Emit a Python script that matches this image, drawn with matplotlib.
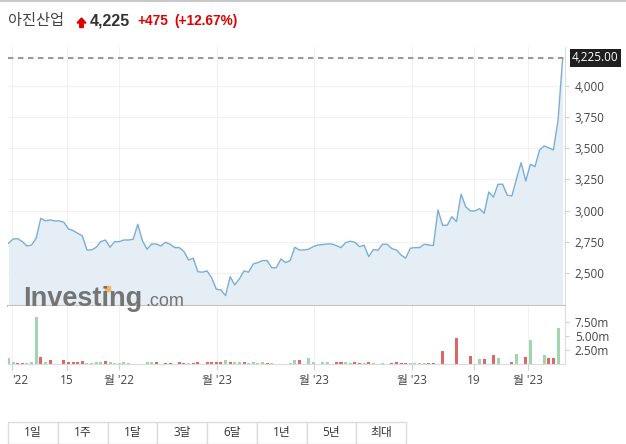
import matplotlib
matplotlib.use("Agg")
import matplotlib.pyplot as plt
import matplotlib.patches as mpatches
import matplotlib.transforms as mtransforms
import numpy as np

plt.rcParams['font.family'] = ['Open Sans', 'Noto Sans CJK KR', 'DejaVu Sans']

# --- data ---
price = [2738, 2772, 2775, 2751, 2716, 2724, 2778, 2938, 2917, 2925,
         2917, 2917, 2906, 2853, 2839, 2818, 2797, 2684, 2684, 2706,
         2751, 2764, 2706, 2751, 2751, 2764, 2764, 2770, 2890, 2759,
         2690, 2732, 2732, 2716, 2746, 2730, 2703, 2703, 2671, 2604,
         2618, 2510, 2506, 2516, 2462, 2369, 2364, 2318, 2470, 2404,
         2452, 2516, 2506, 2572, 2583, 2599, 2599, 2542, 2542, 2612,
         2583, 2599, 2706, 2684, 2684, 2690, 2711, 2724, 2727, 2732,
         2732, 2719, 2703, 2743, 2754, 2746, 2711, 2722, 2631, 2687,
         2682, 2730, 2730, 2695, 2684, 2644, 2618, 2698, 2703, 2703,
         2730, 2724, 2719, 3005, 2882, 2882, 2951, 2911, 3131, 3031,
         2997, 2997, 3015, 2978, 3149, 3107, 3211, 3211, 3123, 3117,
         3256, 3384, 3237, 3371, 3352, 3486, 3518, 3502, 3486, 3726,
         4225]

# volume in millions, 'g' = up bar, 'r' = down bar
volume = [1.07, 0.36, 0.18, 0.18, 0.18, 0.36, 8.5, 1.36, 0.46, 0.77,
          0, 0, 0.77, 0.36, 0.36, 0.36, 0.59, 0.18, 0.18, 0.36,
          0.36, 0.59, 0.36, 0.18, 0.18, 0.36, 0.18, 0, 0, 0,
          0.36, 0.36, 0.36, 0, 0.18, 0.18, 0, 0.36, 0.18, 0.18,
          0.18, 0.36, 0, 0.36, 0.36, 0.36, 0.36, 0.71, 0.36, 0.36,
          0.36, 0.36, 0.18, 0.36, 0.18, 0.36, 0.18, 0.18, 0, 0,
          0, 0.18, 0.71, 0.71, 0, 1.07, 0.36, 0, 0.36, 0.36,
          0, 0.36, 0.36, 0.36, 0.18, 0.36, 0.18, 0.18, 0.36, 0.18,
          0, 0.18, 0, 0.18, 0.36, 0.18, 0.18, 0.18, 0.18, 0.18,
          0.18, 0.18, 0.18, 0, 2.37, 0, 0, 4.64, 0, 0,
          1.48, 0, 0.95, 0.95, 0, 1.66, 1.07, 0, 0, 0.46,
          1.79, 0, 1.25, 4.34, 0, 0, 1.6, 1.07, 1.07, 6.43,
          0]
vol_dir = list("ggrrgggrgr" "ggrrrrrggg"
               "grgggggggg" "ggrgrrgrrg"
               "rrgrrrrgrg" "grggggrggg"
               "gggrgggggg" "grrggrrgrg"
               "gggrrrrggg" "grrgrggrgg"
               "rggrgrgggr" "ggrggggrrg"
               "g")

last_price = 4225
price_ticks = [2500, 2750, 3000, 3250, 3500, 3750, 4000]
vol_ticks = [2.5, 5.0, 7.5]
vol_tick_labels = ["2.50m", "5.00m", "7.50m"]
x_tick_pos = [0.8, 12.7, 24.0, 45.2, 66.2, 87.4, 100.8, 112.5]
x_tick_labels = ["'22", "15", "월 '22", "월 '23", "월 '23", "월 '23", "19", "월 '23"]
ranges = ["1일", "1주", "1달", "3달", "6달", "1년", "5년", "최대"]

W, H = 626, 444
fig = plt.figure(figsize=(W / 100, H / 100), dpi=100)

left = 8 / W
width = (565 - 8) / W
ax = fig.add_axes([left, 1 - 306 / H, width, (306 - 47) / H])
axv = fig.add_axes([left, 1 - 364.3 / H, width, (364.3 - 306) / H], sharex=ax)

x = np.arange(len(price))
line_c = '#78aed9'
ax.fill_between(x, price, 2200, color='#e6eef5', lw=0)
ax.plot(x, price, color=line_c, lw=1.0)
ax.axhline(last_price, color='#9a9a9a', lw=1.5, dashes=(2.6, 2.2))

ax.set_xlim(-0.1, 120.5)
ax.set_ylim(2235, 4311)
ax.set_yticks(price_ticks)
ax.set_yticklabels([f"{v:,}" for v in price_ticks])
ax.yaxis.tick_right()
ax.tick_params(axis='y', direction='out', length=3, color='#d0d0d0',
               labelcolor='#444444', labelsize=8.5, pad=4)
ax.tick_params(axis='x', length=0, labelbottom=False)
ax.grid(True, color='#f1f1f1', lw=0.8)
ax.set_axisbelow(True)
for s in ['left', 'top']:
    ax.spines[s].set_visible(False)
ax.spines['bottom'].set_color('#c4c4c4')
ax.spines['bottom'].set_linewidth(1.5)
ax.spines['right'].set_color('#dcdcdc')

ax.annotate(f"{last_price:,.2f}", xy=(1, last_price), xycoords=('axes fraction', 'data'),
            xytext=(5, 0), textcoords='offset points', va='center', ha='left',
            fontsize=8.5, color='white',
            bbox=dict(boxstyle='square,pad=0.2', fc='#1e1e1e', ec='none'))

# volume
colors = ['#a0d5b0' if d == 'g' else '#e06565' for d in vol_dir]
axv.bar(x, volume, width=0.65, color=colors, lw=0)
axv.set_ylim(0, 10.4)
axv.set_yticks(vol_ticks)
axv.set_yticklabels(vol_tick_labels)
axv.yaxis.tick_right()
axv.tick_params(axis='y', direction='out', length=3, color='#d0d0d0',
                labelcolor='#444444', labelsize=8.5, pad=4)
axv.set_xticks(x_tick_pos)
axv.set_xticklabels(x_tick_labels)
axv.tick_params(axis='x', direction='out', length=4, color='#d0d0d0',
                labelcolor='#444444', labelsize=8.5, pad=3)
axv.get_xticklabels()[0].set_ha('left')
axv.grid(True, axis='x', color='#f1f1f1', lw=0.8)
axv.set_axisbelow(True)
for s in ['left', 'top']:
    axv.spines[s].set_visible(False)
axv.spines['bottom'].set_color('#dcdcdc')
axv.spines['right'].set_color('#dcdcdc')
ax.set_xticks(x_tick_pos)

# watermark
fig.text(23 / W, 1 - 306 / H, "Investing", fontsize=19.5, fontweight='bold',
         family='Liberation Sans', color='#6a6a6a', alpha=0.92, va='baseline')
fig.text(145 / W, 1 - 306 / H, ".com", fontsize=13,
         family='Liberation Sans', color='#6a6a6a', alpha=0.92, va='baseline')
fig.add_artist(mpatches.Rectangle((104.5 / W, 1 - 291 / H), 6 / W, 5 / H,
                                  color='#f2b45a', alpha=0.95))

# header
fig.add_artist(plt.Line2D([0, 1], [1 - 1.5 / H, 1 - 1.5 / H], color='#c8c8c8', lw=1.5))
hy = 1 - 21 / H
fig.text(8 / W, hy, "아진산업", fontsize=11, color='#444444', va='center',
         family=['Noto Sans CJK KR'])
fig.add_artist(mpatches.FancyArrow(81.5, H - 27.5, 0, 9.5, width=3.5, head_width=9,
                                   head_length=5, length_includes_head=True,
                                   color='#e00000', transform=mtransforms.IdentityTransform()))
fig.text(90 / W, hy, f"{last_price:,}", fontsize=11.5, fontweight='bold',
         color='#333333', va='center', family='Liberation Sans')
fig.text(137 / W, hy, "+475", fontsize=9.8, fontweight='bold',
         color='#e00000', va='center', family='Liberation Sans')
fig.text(174 / W, hy, "(+12.67%)", fontsize=9.8, fontweight='bold',
         color='#e00000', va='center', family='Liberation Sans')

# range buttons
bw = 49.7
for i, r in enumerate(ranges):
    x0 = 8.3 + i * bw
    fig.add_artist(mpatches.Rectangle((x0 / W, 0), bw / W, (H - 422.3) / H,
                                      fc='white', ec='#dddddd', lw=1))
    fig.text((x0 + bw / 2) / W, 1 - 432.5 / H, r, ha='center', va='center',
             fontsize=8.5, color='#333333')

fig.savefig("out.png", dpi=100)
